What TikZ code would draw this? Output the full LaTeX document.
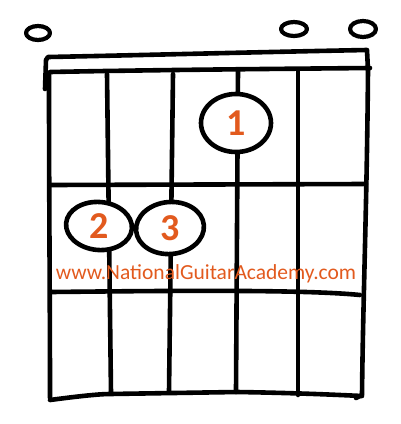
\documentclass[tikz,border=0pt]{standalone}
\usepackage{fontspec}
\usetikzlibrary{shapes.geometric}
\newfontfamily\handfont{Carlito}
\begin{document}
\begin{tikzpicture}[x=1pt,y=-1pt,
  ink/.style={line width=4.6pt,line cap=round,line join=round,black},
  finger/.style={ink,fill=white,ellipse,draw},
  fnum/.style={font=\handfont\bfseries\fontsize{38}{38}\selectfont},
  openstr/.style={ink,line width=4.2pt}]
\useasboundingbox (0,0) rectangle (400,424);
\definecolor{ngaorange}{RGB}{226,90,30}
% frame top
\draw[ink] (45,89) -- (46,60) -- (48,57) .. controls (150,55) and (260,52) .. (367,50) -- (368,70);
\draw[ink] (368,70) .. controls (367,200) and (363,300) .. (362,395) -- (356,398);
\draw[ink] (50,72) .. controls (150,70) and (260,69) .. (370,68);
% left edge
\draw[ink] (49,74) .. controls (49,200) and (50,300) .. (50,398);
% bottom
\draw[ink] (50,400) .. controls (80,396) and (100,394) .. (110,394) -- (237,392) .. controls (300,393) and (340,395) .. (362,396);
% frets
\coordinate (f1l) at (50,185); \coordinate (f1r) at (366,184);
\draw[ink] (f1l) -- (f1r);
\coordinate (f2l) at (51,292); \coordinate (f2r) at (360,295);
\draw[ink] (f2l) .. controls (150,291) and (300,289) .. (f2r);
% strings
\coordinate (s5t) at (107,74); \coordinate (s5b) at (111,393);
\coordinate (s4t) at (173,74); \coordinate (s4b) at (169,392);
\coordinate (s3t) at (238,70); \coordinate (s3b) at (236,392);
\coordinate (s2t) at (298,71); \coordinate (s2b) at (298,395);
\draw[ink] (s5t) -- (s5b);
\draw[ink] (s4t) -- (s4b);
\draw[ink] (s3t) -- (s3b);
\draw[ink] (s2t) -- (s2b);
% fingers
\node[finger,minimum width=70pt,minimum height=58pt] (f1) at (236,123) {};
\node[fnum,text=ngaorange] at (f1) {1};
\node[finger,minimum width=66pt,minimum height=48pt,rotate=-5] (f2) at (99,226) {};
\node[fnum,text=ngaorange] at (f2) {2};
\node[finger,minimum width=68pt,minimum height=52pt,rotate=5] (f3) at (170,228) {};
\node[fnum,text=ngaorange] at (f3) {3};
% open strings
\draw[openstr] (38,33) ellipse (12pt and 7pt);
\draw[openstr] (294,29) ellipse (13pt and 7pt);
\draw[openstr] (363,29) ellipse (13pt and 8pt);
% watermark
\node[text=ngaorange,font=\handfont\fontsize{21.5}{20}\selectfont,inner sep=0pt] (wm) at (206,274) {www.NationalGuitarAcademy.com};
\end{tikzpicture}
\end{document}
